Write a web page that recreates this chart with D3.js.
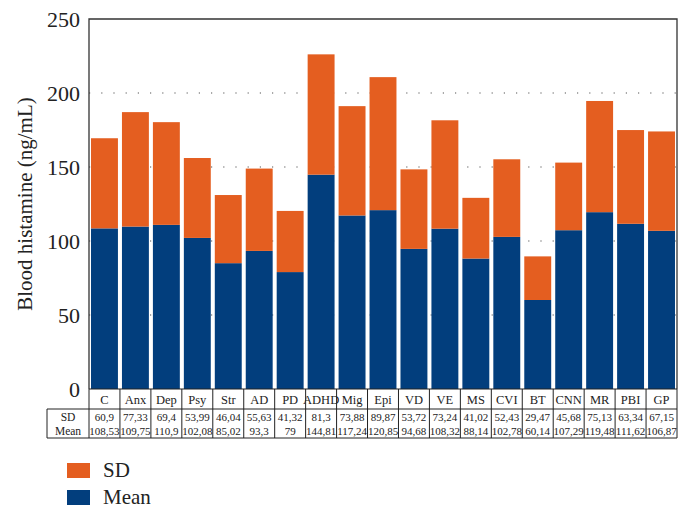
<!DOCTYPE html>
<html lang="en">
<head>
    <meta charset="UTF-8">
    <script src="https://d3js.org/d3.v7.min.js"></script>
    <title>Blood histamine</title>
    <style>
        body { margin: 0; background: #fff; }
        svg text { font-family: "Times New Roman", "Liberation Serif", "DejaVu Serif", serif; fill: #222; }
    </style>
</head>
<body>
    <div id="chart"></div>
    <script>
        // Data
        const categories = ["C", "Anx", "Dep", "Psy", "Str", "AD", "PD", "ADHD", "Mig", "Epi", "VD", "VE", "MS", "CVI", "BT", "CNN", "MR", "PBI", "GP"];
        const sdValues = [60.9, 77.33, 69.4, 53.99, 46.04, 55.63, 41.32, 81.3, 73.88, 89.87, 53.72, 73.24, 41.02, 52.43, 29.47, 45.68, 75.13, 63.34, 67.15];
        const meanValues = [108.53, 109.75, 110.9, 102.08, 85.02, 93.3, 79, 144.81, 117.24, 120.85, 94.68, 108.32, 88.14, 102.78, 60.14, 107.29, 119.48, 111.62, 106.87];
        const sdLabels = ["60,9", "77,33", "69,4", "53,99", "46,04", "55,63", "41,32", "81,3", "73,88", "89,87", "53,72", "73,24", "41,02", "52,43", "29,47", "45,68", "75,13", "63,34", "67,15"];
        const meanLabels = ["108,53", "109,75", "110,9", "102,08", "85,02", "93,3", "79", "144,81", "117,24", "120,85", "94,68", "108,32", "88,14", "102,78", "60,14", "107,29", "119,48", "111,62", "106,87"];
        const yTicks = [0, 50, 100, 150, 200, 250];

        const width = 692;
        const height = 520;
        const mLeft = 89, mRight = 677, mTop = 19, mBottom = 389;
        const orange = "#e45e20";
        const blue = "#023e7d";
        const serif = '"Times New Roman", "Liberation Serif", "DejaVu Serif", serif';

        const svg = d3.select("#chart")
            .append("svg")
            .attr("width", width)
            .attr("height", height)
            .style('font-family', serif);

        const x = d3.scaleBand()
            .domain(categories)
            .range([mLeft, mRight])
            .paddingInner(0.13)
            .paddingOuter(0.065);

        const y = d3.scaleLinear()
            .domain([0, 250])
            .range([mBottom, mTop]);

        // dotted gridlines
        svg.append('g')
            .selectAll('line')
            .data(yTicks.filter(d => d > 0 && d < 250))
            .join('line')
            .attr('x1', mLeft)
            .attr('x2', mRight)
            .attr('y1', d => y(d))
            .attr('y2', d => y(d))
            .attr('stroke', '#555')
            .attr('stroke-width', 1.2)
            .attr('stroke-dasharray', '1.2,11');

        // stacked bars: mean at bottom, SD on top
        const rows = categories.map((c, i) => ({ c, mean: meanValues[i], sd: sdValues[i] }));
        const bars = svg.append('g');
        bars.selectAll('rect.mean')
            .data(rows)
            .join('rect')
            .attr('class', 'mean')
            .attr('x', d => x(d.c))
            .attr('width', x.bandwidth())
            .attr('y', d => y(d.mean))
            .attr('height', d => y(0) - y(d.mean))
            .attr('fill', blue);
        bars.selectAll('rect.sd')
            .data(rows)
            .join('rect')
            .attr('class', 'sd')
            .attr('x', d => x(d.c))
            .attr('width', x.bandwidth())
            .attr('y', d => y(d.mean + d.sd))
            .attr('height', d => y(d.mean) - y(d.mean + d.sd))
            .attr('fill', orange);

        // frame
        svg.append('path')
            .attr('d', `M${mLeft},${mBottom} V${mTop} H${mRight} V${mBottom}`)
            .attr('fill', 'none')
            .attr('stroke', '#333')
            .attr('stroke-width', 1.3);

        // y axis labels
        const yAxis = d3.axisLeft(y).tickValues(yTicks).tickSize(0).tickPadding(9);
        const ga = svg.append('g')
            .attr('transform', `translate(${mLeft},0)`)
            .call(yAxis);
        ga.attr('font-family', null);
        ga.select('.domain').remove();
        ga.selectAll('text')
            .style('font-family', serif)
            .style('font-size', '22px')
            .attr('fill', '#222');

        svg.append('text')
            .attr('transform', 'rotate(-90)')
            .attr('x', -(mTop + mBottom) / 2)
            .attr('y', 32)
            .attr('text-anchor', 'middle')
            .style('font-size', '21px')
            .text('Blood histamine (ng/mL)');

        // category row and table
        const step = x.step();
        const catTop = mBottom, catBot = 409, tblBot = 438, tblLeft = 47;
        const grid = svg.append('g').attr('stroke', '#222').attr('stroke-width', 1).attr('fill', 'none');
        grid.append('line').attr('x1', mLeft).attr('x2', mRight).attr('y1', catTop).attr('y2', catTop);
        grid.append('line').attr('x1', tblLeft).attr('x2', mRight).attr('y1', catBot).attr('y2', catBot);
        grid.append('line').attr('x1', tblLeft).attr('x2', mRight).attr('y1', tblBot).attr('y2', tblBot);
        grid.append('line').attr('x1', tblLeft).attr('x2', tblLeft).attr('y1', catBot).attr('y2', tblBot);
        grid.selectAll('line.sep')
            .data(d3.range(categories.length + 1))
            .join('line')
            .attr('class', 'sep')
            .attr('x1', i => mLeft + i * step)
            .attr('x2', i => mLeft + i * step)
            .attr('y1', catTop)
            .attr('y2', tblBot);

        svg.append('g')
            .selectAll('text')
            .data(categories)
            .join('text')
            .attr('x', d => x(d) + x.bandwidth() / 2)
            .attr('y', 404)
            .attr('text-anchor', 'middle')
            .style('font-size', '12.5px')
            .text(d => d);

        svg.append('g')
            .selectAll('text')
            .data(sdLabels)
            .join('text')
            .attr('x', (d, i) => x(categories[i]) + x.bandwidth() / 2)
            .attr('y', 421)
            .attr('text-anchor', 'middle')
            .style('font-size', '11px')
            .text(d => d);

        svg.append('g')
            .selectAll('text')
            .data(meanLabels)
            .join('text')
            .attr('x', (d, i) => x(categories[i]) + x.bandwidth() / 2)
            .attr('y', 435)
            .attr('text-anchor', 'middle')
            .style('font-size', '11px')
            .text(d => d);

        svg.append('text').attr('x', 68).attr('y', 421).attr('text-anchor', 'middle').style('font-size', '11.5px').text('SD');
        svg.append('text').attr('x', 68).attr('y', 435).attr('text-anchor', 'middle').style('font-size', '11.5px').text('Mean');

        // legend
        const legend = [{ name: 'SD', color: orange }, { name: 'Mean', color: blue }];
        const lg = svg.append('g');
        lg.selectAll('rect')
            .data(legend)
            .join('rect')
            .attr('x', 67)
            .attr('y', (d, i) => 463 + i * 27)
            .attr('width', 23)
            .attr('height', 15)
            .attr('fill', d => d.color);
        lg.selectAll('text')
            .data(legend)
            .join('text')
            .attr('x', 103)
            .attr('y', (d, i) => 477 + i * 27)
            .style('font-size', '21px')
            .text(d => d.name);
    </script>
</body>
</html>
